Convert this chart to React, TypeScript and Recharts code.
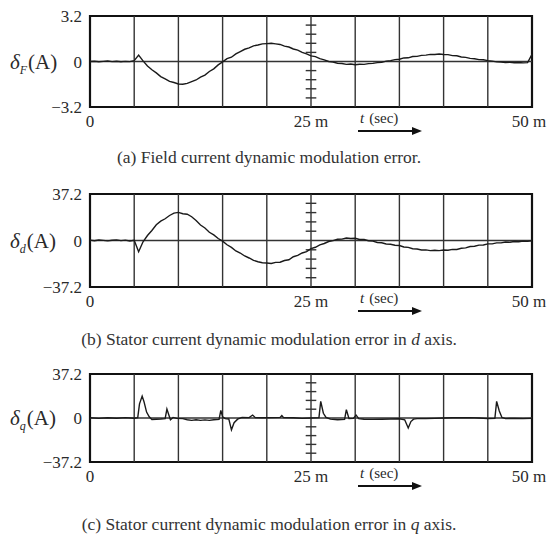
import React from 'react';
import { LineChart, Line, XAxis, YAxis, ReferenceLine, ReferenceArea } from 'recharts';

const FONT = "'Liberation Serif', 'Times New Roman', serif";
const INK = '#2a2a2a';

// time axis (ms)
const SAMPLE_STEP = 0.5;
const timeTicks = [0, 25, 50];
const timeTickLabels: Record<number, string> = { 0: '0', 25: '25 m', 50: '50 m' };
const gridTimes = [5, 10, 15, 20, 25, 30, 35, 40, 45];
const minorTickSteps = [-0.8, -0.6, -0.4, -0.2, 0.2, 0.4, 0.6, 0.8];

// (a) field current error, one sample every 0.5 ms
const fieldError = [
  0.0, 0.02, -0.02, 0.01, 0.03, -0.01, 0.02, -0.02, 0.01, -0.01,
  0.06, 0.45, 0.04, -0.32, -0.58, -0.8, -1.06, -1.22, -1.4, -1.48,
  -1.58, -1.6, -1.54, -1.42, -1.3, -1.1, -0.96, -0.7, -0.52, -0.24,
  -0.03, 0.2, 0.3, 0.54, 0.7, 0.86, 0.96, 1.1, 1.16, 1.24,
  1.26, 1.28, 1.24, 1.2, 1.08, 1.02, 0.88, 0.8, 0.64, 0.54,
  0.4, 0.34, 0.2, 0.12, 0.0, -0.04, -0.12, -0.14, -0.2, -0.18,
  -0.23, -0.19, -0.2, -0.15, -0.13, -0.08, -0.06, 0.03, 0.06, 0.13,
  0.16, 0.25, 0.26, 0.35, 0.36, 0.43, 0.45, 0.5, 0.49, 0.53,
  0.49, 0.48, 0.41, 0.4, 0.32, 0.29, 0.22, 0.19, 0.13, 0.12,
  0.06, 0.03, -0.03, -0.04, -0.07, -0.06, -0.09, -0.07, -0.1, -0.08,
  0.5,
];

// (b) stator d-axis error, one sample every 0.5 ms
const dAxisError = [
  0.3, -0.2, 0.4, 0.1, -0.3, 0.2, 0.5, -0.1, 0.3, -0.4,
  0.2, -9.0, -1.0, 4.0, 8.0, 12.6, 15.5, 17.4, 20.0, 21.9,
  22.5, 21.4, 21.0, 19.0, 16.0, 12.4, 10.0, 6.6, 4.5, 1.6,
  -0.5, -3.4, -5.5, -8.4, -10.0, -12.4, -14.0, -15.9, -17.0, -17.8,
  -18.0, -18.4, -17.5, -17.4, -16.0, -15.4, -13.0, -11.9, -10.0, -8.9,
  -6.5, -5.4, -3.5, -2.4, -0.8, -0.1, 1.0, 1.1, 2.0, 1.6,
  1.8, 0.8, 0.8, -0.2, -0.5, -1.6, -1.8, -2.8, -3.0, -3.8,
  -4.0, -5.2, -5.5, -6.6, -6.8, -7.6, -7.5, -8.1, -7.8, -8.1,
  -7.6, -7.8, -7.1, -7.2, -6.2, -5.9, -4.8, -4.6, -3.7, -3.6,
  -2.7, -2.7, -1.9, -1.9, -1.2, -1.4, -0.8, -1.0, -0.5, -0.7,
  -0.2,
];

// (c) stator q-axis error, [time ms, value A]
const qAxisError: [number, number][] = [
  [0, 0.2], [1, -0.3], [2, 0.2], [3, -0.2], [4, 0.3], [5, -0.2], [5.4, 0.3],
  [5.6, 12], [5.9, 18.5], [6.1, 14], [6.4, 5], [6.7, 1], [7.0, -1.2], [7.5, -1],
  [8.0, -0.8], [8.5, -0.5], [8.7, 7.5], [8.9, 3], [9.1, -1.5], [9.4, 0.5], [9.8, -0.3],
  [10.5, -0.5], [11, -1.5], [11.5, -2], [12, -1.5], [12.5, -2], [13, -1.6], [13.5, -2],
  [14, -1.5], [14.6, -1.2], [14.8, 6.5], [15.0, 1], [15.3, -0.5], [15.7, -0.8], [16.0, -10],
  [16.3, -4], [16.7, -1], [17.2, 0.5], [18, 0.3], [18.4, 2.5], [18.7, 0.3], [19.5, 0.2],
  [20.5, 0.3], [21.5, 0.5], [21.7, 2], [21.9, 0.3], [23, 0.2], [24, -0.3], [25, 0],
  [25.9, 0.3], [26.1, 14], [26.4, 4], [26.7, 0.5], [27.2, -1], [28, -1.5], [28.8, -1.2],
  [29.0, 7], [29.3, -0.5], [29.8, -0.3], [30.1, 2.5], [30.4, -0.5], [31, -1], [32, -1.2],
  [33, -1], [34, -0.8], [35, -0.6], [35.6, -1.5], [36.0, -8.5], [36.3, -3], [36.6, -1],
  [37, -0.5], [38, -0.5], [39, -0.3], [40, 0], [41, 0.2], [42, 0.2], [43, 0.3],
  [44, 0], [45, -0.5], [45.8, -0.3], [46.0, 14], [46.3, 6], [46.6, 0.5], [47, -0.5],
  [48, -0.3], [49, -0.5], [50, -0.3],
];

const captions = [
  '(a) Field current dynamic modulation error.',
  '(b) Stator current dynamic modulation error in ',
  '(c) Stator current dynamic modulation error in ',
];

type Sample = { t: number; v: number };

const fromSteps = (values: number[]): Sample[] =>
  values.map((v, i) => ({ t: i * SAMPLE_STEP, v }));

const fmtY = (v: number) => (v === 0 ? '0' : v < 0 ? `\u2212${Math.abs(v)}` : `${v}`);

// time tick; the last label is pulled left so it stays on the page
const TimeTick = (props: any) => {
  const { x, y, payload } = props;
  const v = payload?.value as number;
  const shift = v === 50 ? -3 : 0;
  return (
    <text
      x={x + shift}
      y={y}
      dy="0.71em"
      textAnchor="middle"
      fontFamily={FONT}
      fontSize={17}
      fill={INK}
    >
      {timeTickLabels[v] ?? ''}
    </text>
  );
};

const renderYLabel = (sub: string) => (props: any) => {
  const vb = props.viewBox || { x: 0, y: 0, height: 0 };
  const cy = vb.y + vb.height / 2;
  return (
    <text x={10} y={cy} dy="0.35em" fontFamily={FONT} fontSize={21} fill={INK}>
      <tspan fontStyle="italic">δ</tspan>
      <tspan fontStyle="italic" fontSize={12} dy={5}>{sub}</tspan>
      <tspan dy={-5} dx={1}>(A)</tspan>
    </text>
  );
};

// "t (sec)" with the arrow underneath, to the right of the 25 ms mark
const renderTimeLabel = (props: any) => {
  const vb = props.viewBox || { x: 0, y: 0, width: 0 };
  const x0 = vb.x + vb.width / 2 + 47;
  const y0 = vb.y;
  return (
    <g>
      <text x={x0 + 2} y={y0 + 16} fontFamily={FONT} fontSize={15} fill={INK}>
        <tspan fontStyle="italic">t</tspan>
        <tspan dx={5}>(sec)</tspan>
      </text>
      <line x1={x0} y1={y0 + 24} x2={x0 + 56} y2={y0 + 24} stroke="#111" strokeWidth={2.2} />
      <polygon points={`${x0 + 64},${y0 + 24} ${x0 + 54},${y0 + 20} ${x0 + 54},${y0 + 28}`} fill="#111" />
    </g>
  );
};

type PanelProps = {
  data: Sample[];
  range: number;
  sub: string;
  top: number;
  height: number;
  plotTop: number;
  plotHeight: number;
};

const Panel = ({ data, range, sub, top, height, plotTop, plotHeight }: PanelProps) => {
  const xAxisHeight = 30;
  return (
    <div style={{ position: 'absolute', left: 0, top }}>
      <LineChart
        width={548}
        height={height}
        data={data}
        margin={{ top: plotTop, right: 16, left: 0, bottom: height - plotTop - plotHeight - xAxisHeight }}
      >
        <XAxis
          dataKey="t"
          type="number"
          domain={[0, 50]}
          ticks={timeTicks}
          axisLine={false}
          tickLine={false}
          height={xAxisHeight}
          interval={0}
          tick={<TimeTick />}
          label={{ content: renderTimeLabel }}
        />
        <YAxis
          type="number"
          domain={[-range, range]}
          ticks={[-range, 0, range]}
          tickFormatter={fmtY}
          axisLine={false}
          tickLine={false}
          width={90}
          interval={0}
          tick={{ fontFamily: FONT, fontSize: 17, fill: INK }}
          label={{ content: renderYLabel(sub) }}
        />
        {gridTimes.map((g) => (
          <ReferenceLine key={`g${g}`} x={g} stroke="#333" strokeWidth={1.4} />
        ))}
        <ReferenceLine y={0} stroke="#333" strokeWidth={1.4} />
        {minorTickSteps.map((s) => (
          <ReferenceLine
            key={`m${s}`}
            segment={[
              { x: 24.4, y: s * range },
              { x: 25.6, y: s * range },
            ]}
            stroke="#333"
            strokeWidth={1.4}
          />
        ))}
        <ReferenceArea
          x1={0}
          x2={50}
          y1={-range}
          y2={range}
          fill="none"
          fillOpacity={0}
          stroke="#111"
          strokeWidth={2.2}
        />
        <Line
          dataKey="v"
          type="linear"
          stroke="#1a1a1a"
          strokeWidth={1.4}
          dot={false}
          isAnimationActive={false}
        />
      </LineChart>
    </div>
  );
};

const captionStyle = (center: number): React.CSSProperties => ({
  position: 'absolute',
  left: 0,
  width: 538,
  top: center - 11,
  lineHeight: '22px',
  textAlign: 'center',
  fontFamily: FONT,
  fontSize: 17.5,
  color: '#333',
});

export default function App() {
  return (
    <div
      style={{
        position: 'absolute',
        left: 0,
        top: 0,
        width: 548,
        height: 537,
        background: '#fff',
        overflow: 'hidden',
      }}
    >
      <Panel data={fromSteps(fieldError)} range={3.2} sub="F" top={0} height={140} plotTop={16} plotHeight={91} />
      <div style={captionStyle(157)}>{captions[0]}</div>

      <Panel data={fromSteps(dAxisError)} range={37.2} sub="d" top={170} height={150} plotTop={24} plotHeight={93} />
      <div style={captionStyle(339)}>
        {captions[1]}
        <i>d</i> axis.
      </div>

      <Panel
        data={qAxisError.map(([t, v]) => ({ t, v }))}
        range={37.2}
        sub="q"
        top={350}
        height={145}
        plotTop={24}
        plotHeight={88}
      />
      <div style={captionStyle(524)}>
        {captions[2]}
        <i>q</i> axis.
      </div>
    </div>
  );
}
